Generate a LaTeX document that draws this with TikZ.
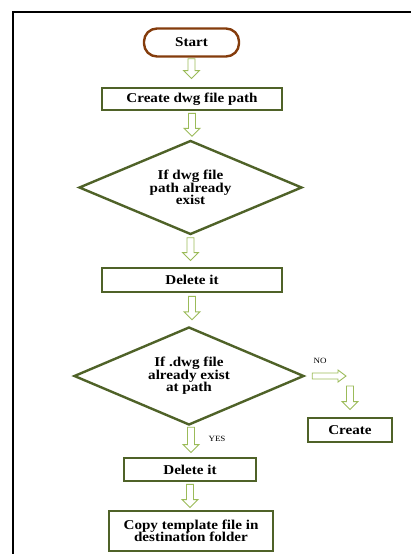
\documentclass[tikz,border=0pt]{standalone}
\usepackage{fontspec}
\setmainfont{Liberation Serif}[FakeStretch=1.12]
\usetikzlibrary{shapes.geometric,calc}
\definecolor{boxgreen}{RGB}{79,98,40}
\definecolor{arrgreen}{RGB}{155,187,89}
\definecolor{startbrown}{RGB}{132,60,12}
\begin{document}
\begin{tikzpicture}[x=1pt,y=-1pt,
  txt/.style={font=\fontsize{13.5}{12.6}\selectfont\bfseries,align=center,inner sep=0pt},
  procbox/.style={txt,draw=boxgreen,line width=2.8pt,rectangle},
  decide/.style={txt,draw=boxgreen,line width=2.4pt,diamond,aspect=2.36},
  lbl/.style={font=\fontsize{8}{9}\selectfont,inner sep=0pt},
  blockdn/.style={draw=arrgreen,line width=0.9pt,to path={let \p1=(\tikztostart),\p2=(\tikztotarget) in
    ({\x1-3.5pt},\y1)--({\x1-3.5pt},{\y2+8pt})--({\x1-8pt},{\y2+8pt})--(\x1,\y2)
    --({\x1+8pt},{\y2+8pt})--({\x1+3.5pt},{\y2+8pt})--({\x1+3.5pt},\y1)--cycle}},
  blockrt/.style={draw=arrgreen,line width=0.9pt,to path={let \p1=(\tikztostart),\p2=(\tikztotarget) in
    (\x1,{\y1+3pt})--({\x2-8pt},{\y1+3pt})--({\x2-8pt},{\y1+6pt})--(\x2,\y1)
    --({\x2-8pt},{\y1-6pt})--({\x2-8pt},{\y1-3pt})--(\x1,{\y1-3pt})--cycle}}]
\useasboundingbox (0,0) rectangle (411,554);
\draw[line width=1.6pt] (13,554)--(13,12)--(411,12);
\node[txt,draw=startbrown,line width=2.4pt,rounded corners=13pt,minimum width=95pt,minimum height=28pt] (start) at (191.5,42.5) {Start};
\node[procbox,minimum width=180pt,minimum height=22pt] (create) at (192,99) {Create dwg file path};
\node[decide,minimum width=223pt,minimum height=94pt] (ifpath) at (190.5,187.5) {If dwg file\\path already\\exist};
\node[procbox,minimum width=180pt,minimum height=24pt] (delone) at (192,280) {Delete it};
\node[decide,minimum width=230pt,minimum height=98pt] (iffile) at (189,376) {If .dwg file\\already exist\\at path};
\node[procbox,minimum width=84pt,minimum height=24pt] (mk) at (350,430) {Create};
\node[procbox,minimum width=132pt,minimum height=23pt] (deltwo) at (190,469.5) {Delete it};
\node[procbox,minimum width=164pt,minimum height=40pt] (copy) at (191,531) {Copy template file in\\destination folder};
\coordinate (turn) at (350,376);
\node[lbl] (no) at (320,361) {NO};
\node[lbl] (yes) at (217,439) {YES};
\draw[blockdn] ([yshift=-1pt]start.south) to ([yshift=8pt]create.north);
\draw[blockdn] ([yshift=-2pt]create.south) to ([yshift=3pt]ifpath.north);
\draw[blockdn] ([yshift=-2pt]ifpath.south) to ([yshift=6pt]delone.north);
\draw[blockdn] ([yshift=-3pt]delone.south) to ([yshift=6pt]iffile.north);
\draw[blockdn] ([xshift=2pt,yshift=-1pt]iffile.south) to ([yshift=4pt]deltwo.north);
\draw[blockdn] ([yshift=-2pt]deltwo.south) to ([yshift=2pt]copy.north);
\draw[blockrt] ([xshift=7pt]iffile.east) to ([xshift=-4pt]turn);
\draw[blockdn] ([yshift=-10pt]turn) to ([yshift=7pt]mk.north);
\end{tikzpicture}
\end{document}
